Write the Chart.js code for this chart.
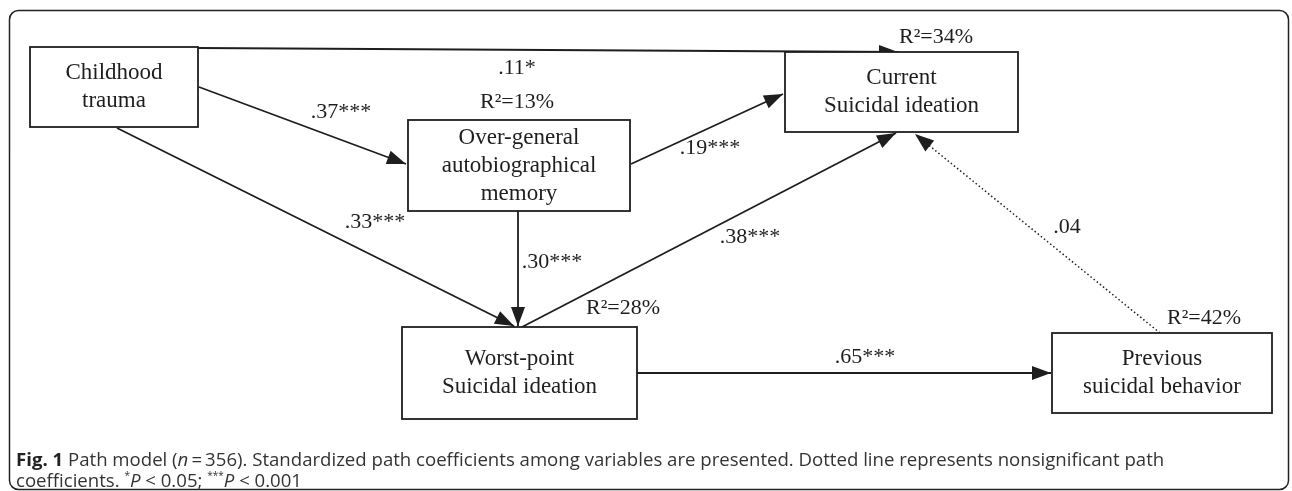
<!DOCTYPE html>
<html>
<head>
<meta charset="utf-8">
<script src="https://cdn.jsdelivr.net/npm/chart.js@4.4.0/dist/chart.umd.min.js"></script>
<style>
html, body { margin: 0; padding: 0; background: #fff; overflow: hidden; }
#wrap { position: relative; width: 1292px; height: 491px; }
#pathChart { position: absolute; left: 0; top: 0; }
#caption {
    position: absolute; left: 16px; top: 448px;
    font-family: "Open Sans", sans-serif; font-size: 18.6px; line-height: 21px;
    color: #333; white-space: nowrap;
}
#caption b { color: #222; }
#caption sup { font-size: 10px; vertical-align: 8px; line-height: 0; }
</style>
</head>
<body>
<div id="wrap">
    <canvas id="pathChart" width="1292" height="491"></canvas>
    <div id="caption"><b>Fig. 1</b> Path model (<i>n</i>&thinsp;=&thinsp;356). Standardized path coefficients among variables are presented. Dotted line represents nonsignificant path<br>coefficients. <sup>*</sup><i>P</i> &lt; 0.05; <sup>***</sup><i>P</i> &lt; 0.001</div>
</div>
<script>
// variables del modelo
var variables = ['Childhood trauma', 'Over-general autobiographical memory', 'Current Suicidal ideation', 'Worst-point Suicidal ideation', 'Previous suicidal behavior'];
var textoCajas = [['Childhood', 'trauma'], ['Over-general', 'autobiographical', 'memory'], ['Current', 'Suicidal ideation'], ['Worst-point', 'Suicidal ideation'], ['Previous', 'suicidal behavior']];
var rCuadrado = [null, 13, 34, 28, 42];

// caminos: origen -> destino, coeficiente estandarizado
var desde = [0, 0, 0, 1, 1, 3, 3, 4];
var hasta = [2, 1, 3, 2, 3, 2, 4, 2];
var coeficientes = ['.11*', '.37***', '.33***', '.19***', '.30***', '.38***', '.65***', '.04'];
var significativo = [true, true, true, true, true, true, true, false];

// disposicion del diagrama (coordenadas del lienzo)
var cajas = [[30, 47, 198, 127], [408, 120, 630, 211], [785, 52, 1018, 132], [402, 327, 637, 419], [1052, 333, 1272, 413]];
var inicioCamino = [[198, 48], [199, 87], [117, 128], [631, 164], [518, 211], [522, 327], [637, 373], [1160, 333]];
var finCamino = [[898, 52], [406, 164], [514, 326], [783, 94], [518, 326], [896, 133], [1051, 373], [915, 134]];
var posEtiqueta = [[517, 68], [341, 112], [375, 222], [710, 148], [552, 262], [750, 237], [865, 357], [1067, 227]];
var posR2 = [null, [517, 102], [936, 37], [623, 308], [1204, 318]];

var tinta = '#1e1e1e';
var fuente = "'Liberation Serif', 'Times New Roman', serif";

var datasets = coeficientes.map(function(c, i) {
    return {
        label: variables[desde[i]] + ' -> ' + variables[hasta[i]] + ' (' + c + ')',
        data: [{ x: inicioCamino[i][0], y: inicioCamino[i][1] }, { x: finCamino[i][0], y: finCamino[i][1] }],
        showLine: true,
        borderColor: tinta,
        borderWidth: significativo[i] ? 1.8 : 1.5,
        borderDash: significativo[i] ? [] : [1.5, 2.5],
        pointRadius: 0,
        fill: false
    };
});

var pluginDiagrama = {
    id: 'diagrama',
    afterDatasetsDraw: function(chart) {
        var ctx = chart.ctx;
        var sx = chart.scales.x, sy = chart.scales.y;
        var px = function(v) { return sx.getPixelForValue(v); };
        var py = function(v) { return sy.getPixelForValue(v); };
        ctx.save();

        // marco exterior redondeado
        ctx.strokeStyle = '#222';
        ctx.lineWidth = 1.5;
        ctx.beginPath();
        ctx.roundRect(px(9.5), py(10.5), px(1288.5) - px(9.5), py(489.5) - py(10.5), 9);
        ctx.stroke();

        // puntas de flecha
        ctx.fillStyle = tinta;
        datasets.forEach(function(ds) {
            var a = ds.data[0], b = ds.data[1];
            var x1 = px(a.x), y1 = py(a.y), x2 = px(b.x), y2 = py(b.y);
            var ang = Math.atan2(y2 - y1, x2 - x1);
            var largo = 19, ancho = 7;
            ctx.beginPath();
            ctx.moveTo(x2, y2);
            ctx.lineTo(x2 - largo * Math.cos(ang) + ancho * Math.sin(ang), y2 - largo * Math.sin(ang) - ancho * Math.cos(ang));
            ctx.lineTo(x2 - largo * Math.cos(ang) - ancho * Math.sin(ang), y2 - largo * Math.sin(ang) + ancho * Math.cos(ang));
            ctx.closePath();
            ctx.fill();
        });

        // cajas de variables
        ctx.lineWidth = 1.8;
        ctx.strokeStyle = tinta;
        ctx.textAlign = 'center';
        ctx.textBaseline = 'middle';
        cajas.forEach(function(c, i) {
            var x0 = px(c[0]), y0 = py(c[1]), x1 = px(c[2]), y1 = py(c[3]);
            ctx.fillStyle = '#fff';
            ctx.fillRect(x0, y0, x1 - x0, y1 - y0);
            ctx.strokeRect(x0, y0, x1 - x0, y1 - y0);
            ctx.fillStyle = tinta;
            ctx.font = '23px ' + fuente;
            var lineas = textoCajas[i];
            var paso = 28;
            var cy = (y0 + y1) / 2 - (lineas.length - 1) * paso / 2;
            lineas.forEach(function(t, k) {
                ctx.fillText(t, (x0 + x1) / 2, cy + k * paso);
            });
        });

        // coeficientes y R²
        ctx.font = '22px ' + fuente;
        coeficientes.forEach(function(c, i) {
            ctx.fillText(c, px(posEtiqueta[i][0]), py(posEtiqueta[i][1]));
        });
        rCuadrado.forEach(function(r, i) {
            if (r === null) return;
            ctx.fillText('R\u00B2=' + r + '%', px(posR2[i][0]), py(posR2[i][1]));
        });
        ctx.restore();
    }
};

new Chart(document.getElementById('pathChart').getContext('2d'), {
    type: 'scatter',
    data: { datasets: datasets },
    options: {
        responsive: false,
        animation: false,
        devicePixelRatio: 1,
        layout: { padding: 0 },
        plugins: { legend: { display: false }, tooltip: { enabled: false } },
        scales: {
            x: { type: 'linear', min: 0, max: 1292, display: false },
            y: { type: 'linear', min: 0, max: 491, reverse: true, display: false }
        }
    },
    plugins: [pluginDiagrama]
});
</script>
</body>
</html>
